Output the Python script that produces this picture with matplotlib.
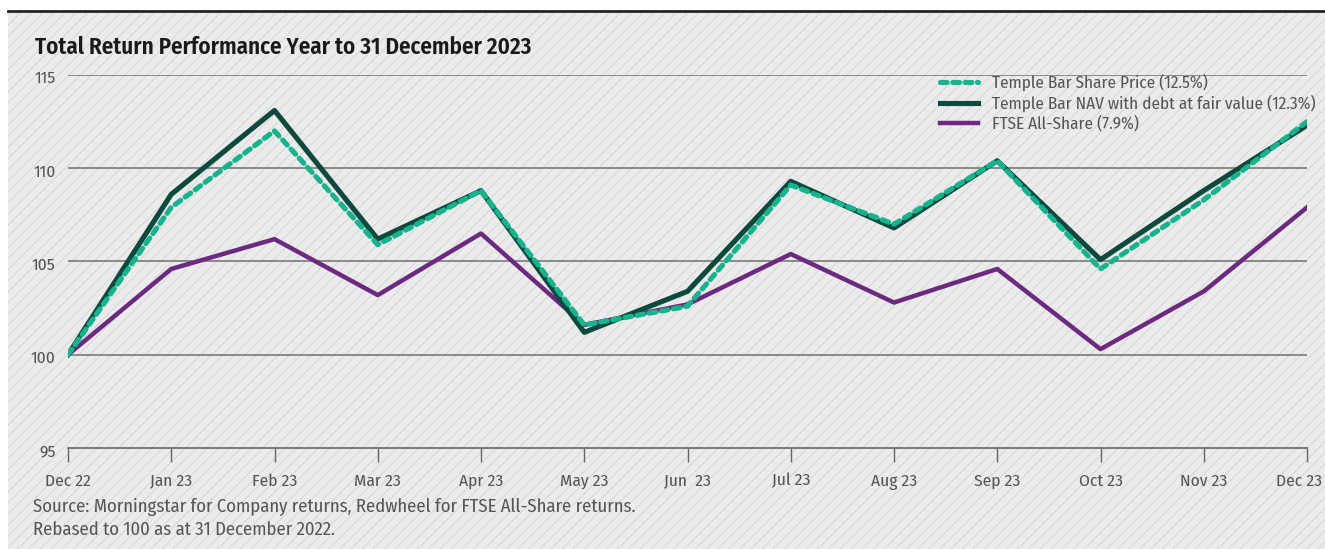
import matplotlib
matplotlib.use("Agg")
import matplotlib.pyplot as plt
import matplotlib.transforms as mtransforms
from matplotlib.patches import Rectangle
from matplotlib.lines import Line2D

plt.rcParams["font.family"] = ["Fira Sans Condensed", "Roboto Condensed",
                               "Archivo Narrow", "DejaVu Sans"]

months = ["Dec 22", "Jan 23", "Feb 23", "Mar 23", "Apr 23", "May 23", "Jun  23",
          "Jul 23", "Aug 23", "Sep 23", "Oct 23", "Nov 23", "Dec 23"]
share_price = [100, 107.9, 112.0, 105.9, 108.8, 101.6, 102.6, 109.1, 107.0, 110.4, 104.6, 108.3, 112.5]
nav = [100, 108.6, 113.1, 106.2, 108.8, 101.2, 103.4, 109.3, 106.8, 110.4, 105.1, 108.8, 112.3]
ftse = [100, 104.6, 106.2, 103.2, 106.5, 101.6, 102.7, 105.4, 102.8, 104.6, 100.3, 103.4, 107.9]
labels = ["Temple Bar Share Price (12.5%)",
          "Temple Bar NAV with debt at fair value (12.3%)",
          "FTSE All-Share (7.9%)"]

TEAL, DARK, PURPLE = "#17b38d", "#0d4a3d", "#6b2a80"
GRID, TXT = "#7a7a7a", "#555555"

fig = plt.figure(figsize=(13.25, 5.49), dpi=100)
fig.patch.set_facecolor("white")
# hatched grey panel + top rule
plt.rcParams["hatch.color"] = "#d6d6d6"
plt.rcParams["hatch.linewidth"] = 0.7
fig.patches.append(Rectangle((8/1325, 0), 1, 1 - 13/549, transform=fig.transFigure,
                             facecolor="#ebebeb", edgecolor="#d6d6d6", hatch="///",
                             lw=0, zorder=-10))
fig.add_artist(Line2D([8/1325, 1], [1 - 11/549] * 2, color="#222222", lw=2))

ax = fig.add_axes([68/1325, 1 - 448/549, (1307 - 68)/1325, (448 - 75)/549])
ax.patch.set_alpha(0)
x = list(range(len(months)))
ax.plot(x, ftse, color=PURPLE, lw=3.2, label=labels[2], zorder=3)
ax.plot(x, nav, color=DARK, lw=3.7, label=labels[1], zorder=4)
ax.plot(x, share_price, color=TEAL, lw=3.7, ls=(0, (1.3, 1.1)), dash_capstyle="round",
        label=labels[0], zorder=5)

ax.set_xlim(0, len(months) - 1)
ax.set_ylim(95, 115)
ax.set_yticks([95, 100, 105, 110, 115])
for v in [100, 105, 110, 115]:
    ax.axhline(v, color=GRID, lw=1.2, zorder=1)
for s in ["top", "right", "left"]:
    ax.spines[s].set_visible(False)
ax.spines["bottom"].set_color("#666666")
ax.spines["bottom"].set_linewidth(1.2)
ax.set_xticks(x)
ax.set_xticklabels(months, fontsize=12.5, color=TXT)
ax.tick_params(axis="x", length=10, width=1, color="#666666", pad=17)
ax.tick_params(axis="y", length=0, labelsize=12.5, labelcolor=TXT, pad=9)
for t in ax.get_xticklabels():
    t.set_verticalalignment("baseline")
last = ax.get_xticklabels()[-1]
last.set_transform(last.get_transform() + mtransforms.ScaledTranslation(-8/100, 0, fig.dpi_scale_trans))
for t in ax.get_yticklabels():
    t.set_transform(t.get_transform() + mtransforms.ScaledTranslation(0, -2/100, fig.dpi_scale_trans))

h, l = ax.get_legend_handles_labels()
order = [2, 1, 0]
fig.legend([h[i] for i in order], [l[i] for i in order], loc="upper left",
           bbox_to_anchor=(940/1325, 1 - 74/549), frameon=False, fontsize=12.4, labelcolor=TXT,
           handlelength=2.2, handletextpad=0.8, labelspacing=0.2, borderpad=0, borderaxespad=0)

fig.text(35/1325, 1 - 47/549, "Total Return Performance Year to 31 December 2023",
         fontsize=16.6, fontweight="semibold", color="#1a1a1a", va="center")
fig.text(33/1325, 1 - 507/549, "Source: Morningstar for Company returns, Redwheel for FTSE All-Share returns.",
         fontsize=13.4, color=TXT, va="center")
fig.text(33/1325, 1 - 530/549, "Rebased to 100 as at 31 December 2022.",
         fontsize=13.4, color=TXT, va="center")

fig.savefig("out.png", dpi=100)
